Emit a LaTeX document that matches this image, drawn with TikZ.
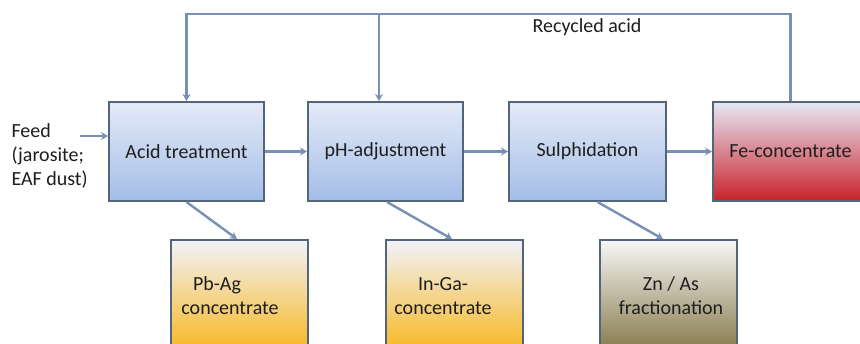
\documentclass[tikz,border=0pt]{standalone}
\usepackage{fontspec}
\setmainfont{Carlito}
\usetikzlibrary{arrows.meta,calc}

\definecolor{edge}{HTML}{53647D}
\definecolor{flow}{HTML}{7890B4}
\definecolor{ink}{HTML}{1E1E1E}
\definecolor{blueTop}{HTML}{E4EAF7}
\definecolor{blueBot}{HTML}{A4BDE7}
\definecolor{redTop}{HTML}{E6E8F5}
\definecolor{redMid}{HTML}{DA9AA6}
\definecolor{redBot}{HTML}{C8222A}
\definecolor{orgTop}{HTML}{F1F3FB}
\definecolor{orgBot}{HTML}{F8B822}
\definecolor{oliveTop}{HTML}{F7F7F7}
\definecolor{oliveBot}{HTML}{867A4C}

\tikzset{
  txt/.style={font=\fontsize{20}{24}\selectfont, text=ink},
  procbox/.style={draw=edge, line width=2pt, minimum width=155pt, minimum height=99pt,
    inner sep=0pt, txt},
  bluebox/.style={procbox, top color=blueTop, bottom color=blueBot},
  redbox/.style={procbox, top color=redTop, middle color=redMid, bottom color=redBot},
  outbox/.style={draw=edge, line width=2pt, minimum width=137pt, minimum height=110pt,
    inner sep=0pt},
  orangebox/.style={outbox, top color=orgTop, bottom color=orgBot},
  olivebox/.style={outbox, top color=oliveTop, bottom color=oliveBot},
  recycle/.style={draw=flow, line width=2.4pt},
  flowline/.style={recycle, -{Stealth[length=7pt,width=8pt]}}
}

\begin{document}
\begin{tikzpicture}[x=1pt,y=-1pt]
  \useasboundingbox (0,0) rectangle (860,343);
  \clip (0,0) rectangle (860,343);
  \fill[white] (0,0) rectangle (860,343);

  % main process line
  \node[bluebox] (acid) at (186.5,151.5) {Acid treatment};
  \node[bluebox] (ph)   at (385.5,151.5) {pH-adjustment};
  \node[bluebox, minimum width=157pt] (sulph) at (587.5,151.5) {Sulphidation};
  \node[redbox]  (fe)   at (790.5,151.5) {Fe-concentrate};

  % side products
  \node[orangebox] (pbag) at (239,295) {};
  \node[orangebox] (inga) at (454,295) {};
  \node[olivebox]  (znas) at (668,295) {};
  \node[txt, align=center] (pbagtxt) at (230,296) {Pb-Ag\hspace*{1.3em}\\concentrate};
  \node[txt, align=center] (ingatxt) at (443,296) {In-Ga-\\concentrate};
  \node[txt, align=center] (znastxt) at (671,296) {Zn / As\\fractionation};

  % feed
  \node[txt, anchor=west, align=left] (feed) at (8,156) {Feed\\(jarosite;\\EAF dust)};
  \coordinate (feedin) at (80,136);
  \draw[flowline] (feedin) -- (feedin -| acid.west);

  % forward flow
  \draw[flowline] (acid.east) -- (ph.west);
  \draw[flowline] (ph.east) -- (sulph.west);
  \draw[flowline] (sulph.east) -- (fe.west);

  % branches to side products
  \draw[flowline] (acid.south) -- ([xshift=-2pt]pbag.north);
  \draw[flowline] ([xshift=1.5pt]ph.south) -- ([xshift=-2pt]inga.north);
  \draw[flowline] ([xshift=10pt]sulph.south) -- ([xshift=-5pt]znas.north);

  % recycled acid loop
  \coordinate (topR) at (790.5,14);
  \coordinate (topM) at (379,14);
  \draw[flowline] (fe.north) -- (topR) -| (acid.north);
  \draw[flowline] (topM) -- (topM |- ph.north);
  \node[txt] (rlabel) at (587,27) {Recycled acid};
\end{tikzpicture}
\end{document}
